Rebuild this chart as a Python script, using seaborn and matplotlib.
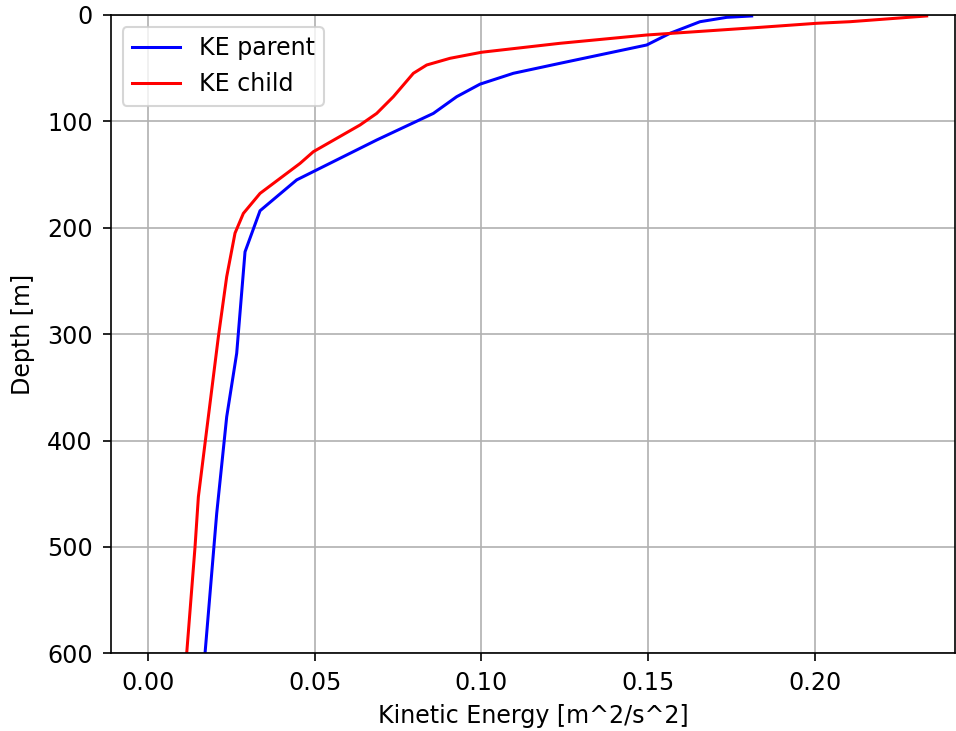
import matplotlib
matplotlib.use("Agg")
import matplotlib.pyplot as plt
import seaborn as sns
import numpy as np

depth_parent = [0.9, 2.2, 6.3, 17.2, 28.2, 45.4, 54.8, 65.0, 76.8, 92.5, 117.5, 155, 184, 222.6, 318, 377.7, 468.6, 600]
ke_parent = [0.1811, 0.1736, 0.1656, 0.1566, 0.1496, 0.1236, 0.1096, 0.0996, 0.0926, 0.0856, 0.0686, 0.0446, 0.0336, 0.0291, 0.0266, 0.0236, 0.0206, 0.0171]

depth_child = [0.9, 6.3, 7.8, 11.6, 18.8, 26.6, 35.0, 40.7, 47, 54.8, 76.8, 92.5, 103.4, 128.5, 139.5, 167.7, 186.5, 205, 246, 302.5, 390, 453, 500, 600]
ke_child = [0.2336, 0.2106, 0.2006, 0.1836, 0.1496, 0.1236, 0.1001, 0.0906, 0.0836, 0.0796, 0.0736, 0.0686, 0.0636, 0.0496, 0.0456, 0.0336, 0.0286, 0.0261, 0.0236, 0.0211, 0.0176, 0.0151, 0.0141, 0.0116]

xticks = [0.00, 0.05, 0.10, 0.15, 0.20]
yticks = [0, 100, 200, 300, 400, 500, 600]

plt.rcParams.update({
    "font.size": 11.4,
    "xtick.major.size": 4.0,
    "ytick.major.size": 4.0,
    "xtick.major.pad": 4.6,
    "ytick.major.pad": 4.6,
})

fig = plt.figure(figsize=(956/150, 731/150), dpi=150)
ax = fig.add_axes([110.7/956, 1-653.3/731, (955-110.7)/956, (653.3-15)/731])

sns.lineplot(x=ke_parent, y=depth_parent, sort=False, estimator=None, color="blue",
             label="KE parent", ax=ax, linewidth=1.45)
sns.lineplot(x=ke_child, y=depth_child, sort=False, estimator=None, color="red",
             label="KE child", ax=ax, linewidth=1.45)

ax.set_xlim(-0.0112, 0.2421)
ax.set_ylim(600, 0)
ax.set_xticks(xticks)
ax.set_xticklabels([f"{t:.2f}" for t in xticks])
ax.set_yticks(yticks)
ax.grid(True, color="#b0b0b0", linewidth=0.8)
ax.set_axisbelow(True)
ax.set_xlabel("Kinetic Energy [m^2/s^2]", labelpad=4.0)
ax.set_ylabel("Depth [m]", labelpad=6)
ax.legend(loc="upper left")

fig.savefig("out.png", dpi=150)
